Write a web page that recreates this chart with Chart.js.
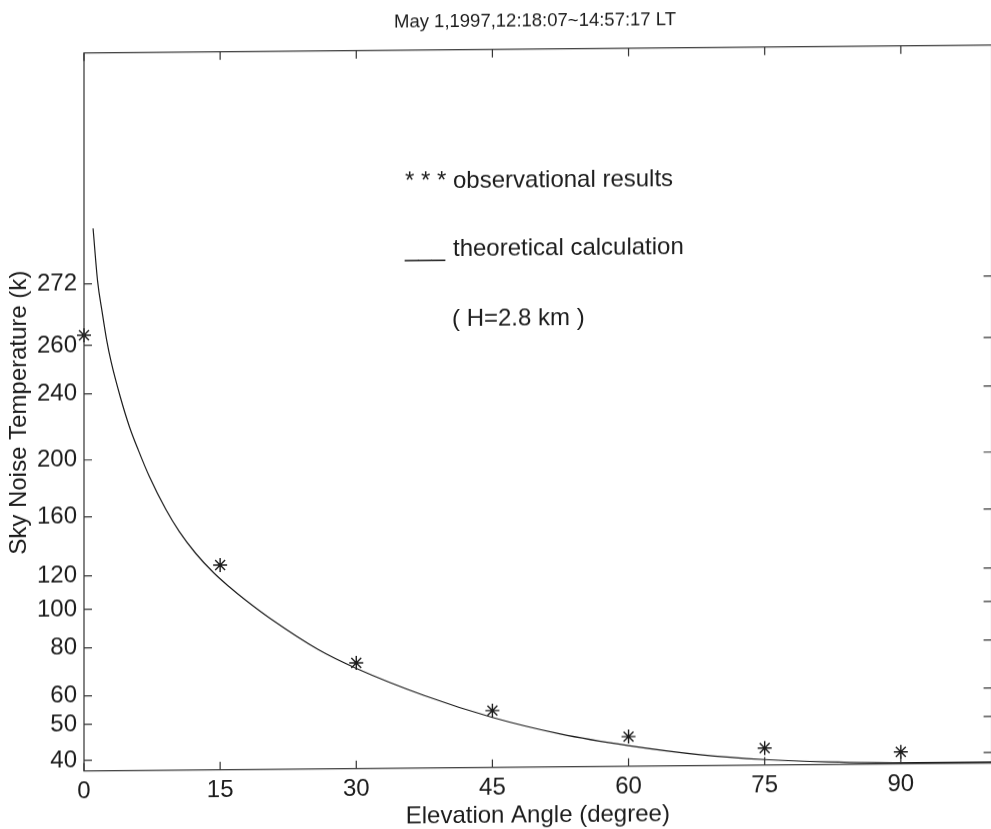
<!DOCTYPE html>
<html>
<head>
<meta charset="utf-8">
<script src="https://cdn.jsdelivr.net/npm/chart.js@4.4.1/dist/chart.umd.min.js"></script>
<style>
  html,body{margin:0;padding:0;background:#fff;overflow:hidden;}
  /* the scanned figure leans a little: right side sits ~8px higher */
  #wrap{width:1000px;height:845px;transform:skewY(-0.5deg);transform-origin:0 0;}
</style>
</head>
<body>
<div id="wrap"><canvas id="c" width="1000" height="845"></canvas></div>
<script>
const titleText = 'May 1,1997,12:18:07~14:57:17 LT';
const xTicks = [0,15,30,45,60,75,90];
const yTicks = [40,50,60,80,100,120,160,200,240,260,272];

const obsElev = [0,15,30,45,60,75,90];
const obsTemp = [262,126.6,72.8,53.6,45.3,41.8,40.4];

const calcElev = [1,1.5,2,2.5,3,4,5,6,7.2,9,10.5,12.3,14.3,16,17.8,20.5,25.8,30,37.5,45,52.5,60,67.9,75,82,90,100];
const calcTemp = [282.8,272.5,266.5,261,253,238,220,205.5,188,165,149.5,134.7,121.3,112.8,104.7,94.5,78.5,70.5,59.1,51.2,46.2,42.8,40.1,38.6,37.8,37.4,37.4];

// the printed y axis is not linear: share of the axis height at which each labelled tick sits
const yTickFrac = [.0146,.0648,.1045,.1713,.2249,.2716,.3538,.4331,.5251,.5926,.6783];

function warp(t) {
  let i = 0;
  while (i < yTicks.length-2 && t > yTicks[i+1]) i++;
  const t0 = yTicks[i], t1 = yTicks[i+1], f0 = yTickFrac[i], f1 = yTickFrac[i+1];
  return f0 + (t-t0)*(f1-f0)/(t1-t0);
}

const ink  = '#1c1c1c';
const face = "'Liberation Sans', Arial, Helvetica, sans-serif";

const framePlugin = {
  id:'frame',
  afterDraw(chart) {
    const {ctx, chartArea:a, scales:{x, y}} = chart;
    ctx.save();
    ctx.strokeStyle = '#333'; ctx.lineWidth = 1.2;
    ctx.strokeRect(a.left, a.top, a.right-a.left, a.bottom-a.top);
    ctx.beginPath();
    x.ticks.forEach(t => {
      const px = x.getPixelForValue(t.value);
      ctx.moveTo(px, a.bottom); ctx.lineTo(px, a.bottom-8);
      ctx.moveTo(px, a.top);    ctx.lineTo(px, a.top+8);
    });
    y.ticks.forEach(t => {
      const py = y.getPixelForValue(t.value);
      ctx.moveTo(a.left, py);  ctx.lineTo(a.left+8, py);
      ctx.moveTo(a.right, py); ctx.lineTo(a.right-8, py);
    });
    ctx.stroke();

    ctx.fillStyle = ink;
    ctx.textAlign = 'center'; ctx.textBaseline = 'middle';
    ctx.font = `18.5px ${face}`;
    ctx.fillText(titleText, 535, 26);

    ctx.textAlign = 'left'; ctx.textBaseline = 'alphabetic';
    ctx.font = `24px ${face}`;
    ctx.fillText('* * *', 405, 191.5);
    ctx.fillText('observational results', 453, 191.5);
    ctx.fillText('___', 405, 259.5);
    ctx.fillText('theoretical calculation', 453, 259.5);
    ctx.fillText('( H=2.8 km )', 452, 330);
    ctx.restore();
  }
};

new Chart(document.getElementById('c'), {
  type:'scatter',
  data:{
    datasets:[
      {
        label:'theoretical calculation', type:'line',
        data: calcElev.map((e,i) => ({x:e, y:warp(calcTemp[i])})),
        borderColor:ink, borderWidth:1.2, pointRadius:0,
        cubicInterpolationMode:'monotone', fill:false
      },
      {
        label:'observational results',
        data: obsElev.map((e,i) => ({x:e, y:warp(obsTemp[i])})),
        pointStyle:'star', pointRadius:7, borderWidth:1.4,
        borderColor:ink, backgroundColor:ink, clip:false
      }
    ]
  },
  options:{
    responsive:false, animation:false, devicePixelRatio:1,
    layout:{ padding:{top:53.7, right:2, left:0, bottom:0} },
    plugins:{ legend:{display:false}, tooltip:{enabled:false} },
    scales:{
      x:{
        type:'linear', min:0, max:100,
        afterBuildTicks: s => { s.ticks = xTicks.map(v => ({value:v})); },
        afterFit: s => { s.height = 73.3; },
        grid:{display:false, drawTicks:false}, border:{display:false},
        ticks:{color:ink, font:{family:face, size:24}, padding:6, callback:v => v},
        title:{display:true, text:'Elevation Angle (degree)', color:ink,
               font:{family:face, size:24}, padding:{top:0, bottom:9.9}}
      },
      y:{
        type:'linear', min:0, max:1,
        afterBuildTicks: s => { s.ticks = yTicks.map(v => ({value:warp(v)})); },
        afterFit: s => { s.width = 84; },
        grid:{display:false, drawTicks:false}, border:{display:false},
        ticks:{color:ink, font:{family:face, size:24}, padding:7, callback:(v,i) => yTicks[i]},
        title:{display:true, text:'Sky Noise Temperature (k)', color:ink,
               font:{family:face, size:24}, padding:{top:4.6, bottom:0}}
      }
    }
  },
  plugins:[framePlugin]
});
</script>
</body>
</html>
